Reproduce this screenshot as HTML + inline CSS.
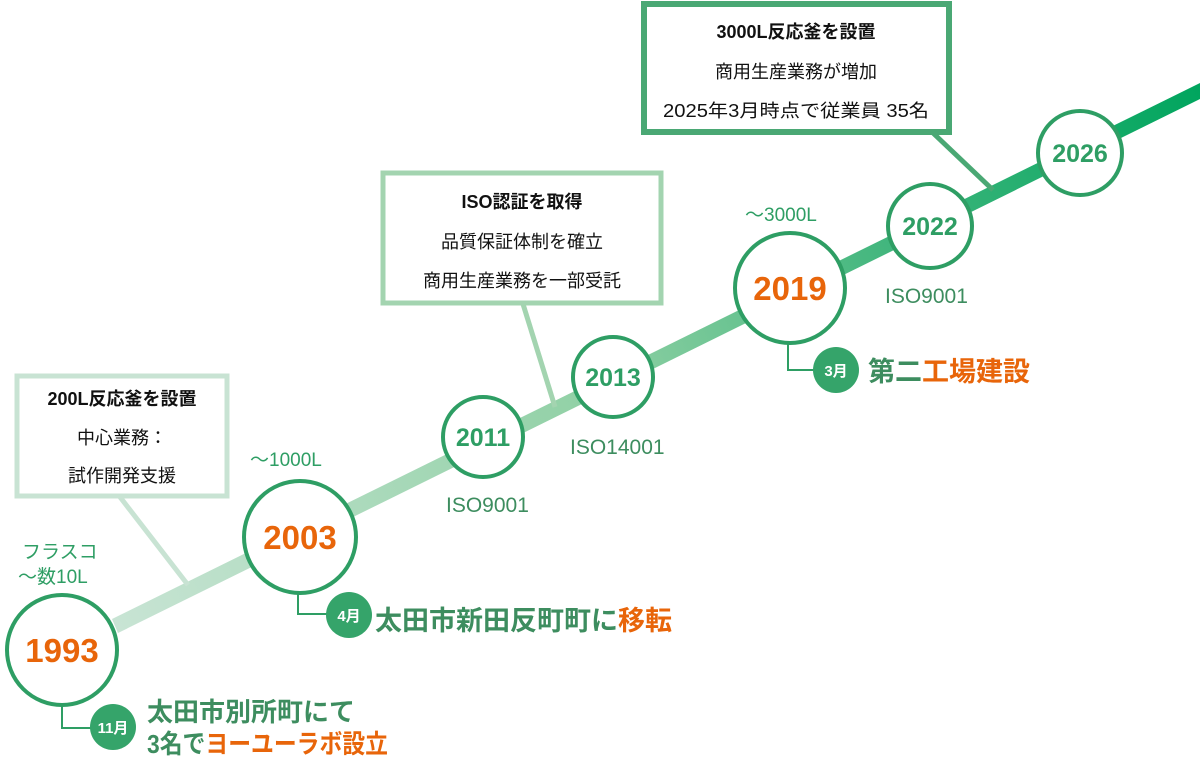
<!DOCTYPE html>
<html><head><meta charset="utf-8"><style>
html,body{margin:0;padding:0;background:#fff;}
svg{display:block;}
text{font-family:"Liberation Sans","Noto Sans CJK JP",sans-serif;}
</style></head><body>
<svg width="1200" height="757" viewBox="0 0 1200 757" xmlns="http://www.w3.org/2000/svg">
<defs>
<linearGradient id="lg" x1="115" y1="625" x2="1200" y2="88" gradientUnits="userSpaceOnUse">
<stop offset="0" stop-color="#c8e4d4"/>
<stop offset="0.45" stop-color="#8fd0a4"/>
<stop offset="0.7" stop-color="#45b77f"/>
<stop offset="1" stop-color="#00a55e"/>
</linearGradient>
</defs>
<polygon points="112,619 1200,83 1200,99 118,633" fill="url(#lg)"/>
<line x1="120" y1="497" x2="188" y2="585" stroke="#c8e3d3" stroke-width="5"/>
<line x1="523" y1="304" x2="555" y2="407" stroke="#a3d4b0" stroke-width="5"/>
<line x1="932" y1="132" x2="993" y2="190" stroke="#4aa874" stroke-width="5"/>
<rect x="17" y="376" width="210" height="120" fill="#fff" stroke="#c8e3d3" stroke-width="5"/>
<text x="122" y="405" font-size="18" font-weight="bold" text-anchor="middle" fill="#111">200L反応釜を設置</text>
<text x="122" y="444" font-size="18" text-anchor="middle" fill="#111">中心業務：</text>
<text x="122" y="482" font-size="18" text-anchor="middle" fill="#111">試作開発支援</text>

<rect x="383" y="173" width="278" height="130" fill="#fff" stroke="#a3d4b0" stroke-width="5"/>
<text x="522" y="208" font-size="18" font-weight="bold" text-anchor="middle" fill="#111">ISO認証を取得</text>
<text x="522" y="248" font-size="18" text-anchor="middle" fill="#111">品質保証体制を確立</text>
<text x="522" y="287" font-size="18" text-anchor="middle" fill="#111">商用生産業務を一部受託</text>

<rect x="644" y="4" width="305" height="128" fill="#fff" stroke="#4aa874" stroke-width="6"/>
<text x="796" y="38" font-size="18" font-weight="bold" text-anchor="middle" fill="#111">3000L反応釜を設置</text>
<text x="796" y="78" font-size="18" text-anchor="middle" fill="#111">商用生産業務が増加</text>
<text x="796" y="117" font-size="18" text-anchor="middle" fill="#111" textLength="266" lengthAdjust="spacingAndGlyphs">2025年3月時点で従業員 35名</text>

<g fill="#fff" stroke="#2e9e64" stroke-width="4">
<circle cx="62" cy="650" r="55"/>
<circle cx="300" cy="537" r="56"/>
<circle cx="483" cy="437" r="40"/>
<circle cx="613" cy="377" r="40"/>
<circle cx="790" cy="288" r="55"/>
<circle cx="930" cy="226" r="42"/>
<circle cx="1080" cy="153" r="42"/>
</g>
<g font-weight="bold" text-anchor="middle">
<text x="62" y="662" font-size="33" fill="#e8650a">1993</text>
<text x="300" y="549" font-size="33" fill="#e8650a">2003</text>
<text x="483" y="446" font-size="25" fill="#2e9e64">2011</text>
<text x="613" y="386" font-size="25" fill="#2e9e64">2013</text>
<text x="790" y="300" font-size="33" fill="#e8650a">2019</text>
<text x="930" y="235" font-size="25" fill="#2e9e64">2022</text>
<text x="1080" y="162" font-size="25" fill="#2e9e64">2026</text>
</g>
<g fill="#2e9e64" font-size="19">
<text x="22" y="558">フラスコ</text>
<text x="18" y="583">〜数10L</text>
<text x="250" y="466">〜1000L</text>
<text x="745" y="221">〜3000L</text>
</g>
<g fill="#3d8d5f" font-size="21">
<text x="446" y="512">ISO9001</text>
<text x="570" y="454">ISO14001</text>
<text x="885" y="303">ISO9001</text>
</g>
<g fill="none" stroke="#2e9e64" stroke-width="2">
<polyline points="62,706 62,728 95,728"/>
<polyline points="298,594 298,614 330,614"/>
<polyline points="788,343 788,370 816,370"/>
</g>
<g fill="#35a46a">
<circle cx="113" cy="727" r="23"/>
<circle cx="349" cy="615" r="23"/>
<circle cx="836" cy="370" r="23"/>
</g>
<g fill="#fff" font-weight="bold" text-anchor="middle" font-size="15">
<text x="113" y="733">11月</text>
<text x="349" y="621">4月</text>
<text x="836" y="376">3月</text>
</g>
<g font-size="26" font-weight="bold">
<text x="147" y="721" fill="#3d8d5f">太田市別所町にて</text>
<text x="147" y="753" fill="#3d8d5f" textLength="241" lengthAdjust="spacingAndGlyphs">3名で<tspan fill="#e8650a">ヨーユーラボ設立</tspan></text>
<text x="375" y="630" fill="#3d8d5f" font-size="27">太田市新田反町町に<tspan fill="#e8650a">移転</tspan></text>
<text x="868" y="381" fill="#3d8d5f" font-size="27">第二<tspan fill="#e8650a">工場建設</tspan></text>
</g>
</svg>
</body></html>
